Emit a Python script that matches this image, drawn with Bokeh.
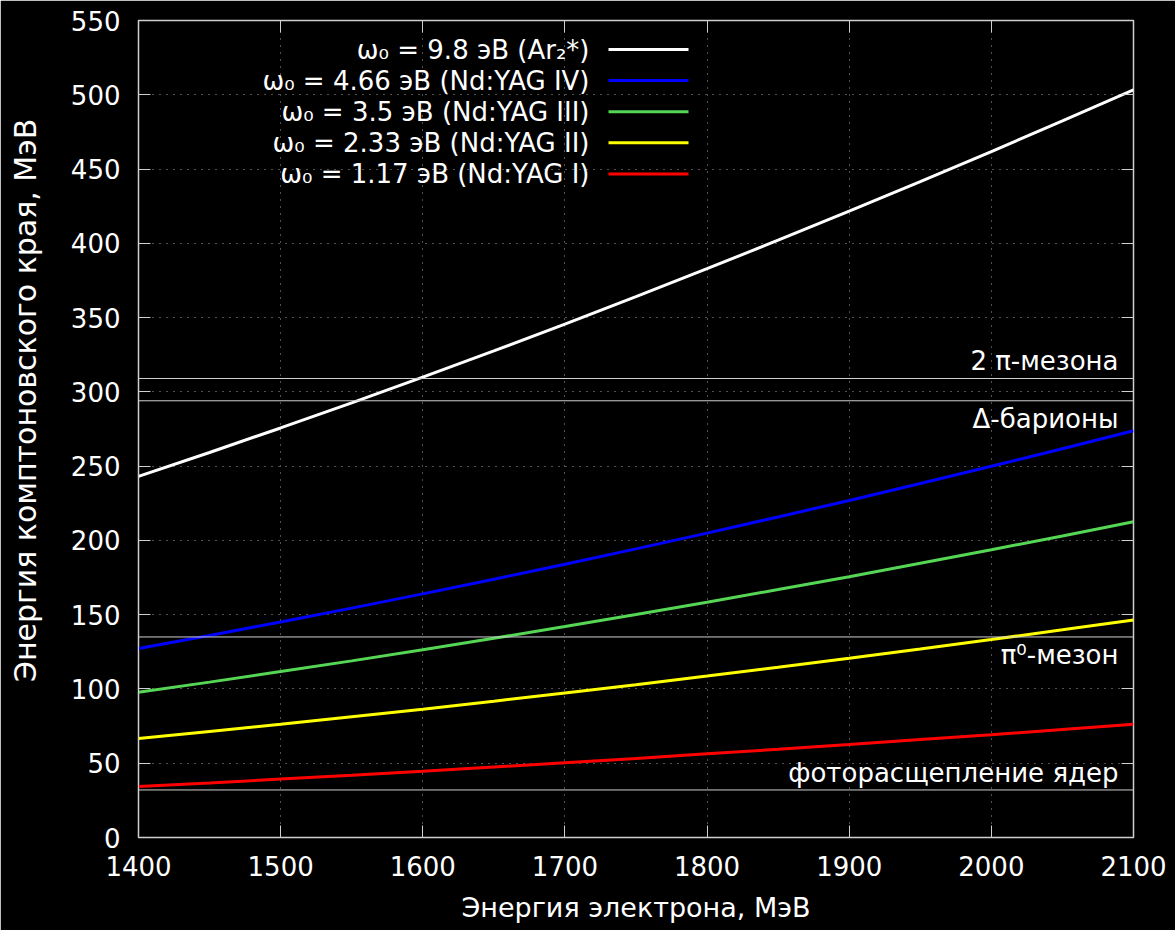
from bokeh.plotting import figure
from bokeh.models import (LinearAxis, FixedTicker, Span, Label, BoxAnnotation, Range1d)
from bokeh.embed import file_html
from bokeh.resources import INLINE

# ---------------- data ----------------
electron_energy = [1400, 1450, 1500, 1550, 1600, 1650, 1700, 1750, 1800,
                   1850, 1900, 1950, 2000, 2050, 2100]

edge_ar2 = [243.1, 259.2, 275.7, 292.6, 309.9, 327.6, 345.6, 364.1, 382.9,
            402.1, 421.7, 441.6, 461.8, 482.4, 503.3]
edge_yag4 = [127.2, 136.0, 145.1, 154.4, 164.0, 173.9, 184.0, 194.3, 204.9,
             215.8, 226.9, 238.3, 249.9, 261.7, 273.8]
edge_yag3 = [97.8, 104.6, 111.7, 118.9, 126.4, 134.1, 142.0, 150.1, 158.4,
             166.9, 175.6, 184.6, 193.7, 203.0, 212.5]
edge_yag2 = [66.6, 71.4, 76.2, 81.3, 86.4, 91.8, 97.3, 102.9, 108.7,
             114.6, 120.7, 126.9, 133.3, 139.8, 146.4]
edge_yag1 = [34.3, 36.7, 39.3, 41.9, 44.6, 47.4, 50.3, 53.2, 56.3,
             59.4, 62.6, 65.9, 69.2, 72.7, 76.2]

series_labels = ["ω₀ = 9.8 эВ (Ar₂*)",
                 "ω₀ = 4.66 эВ (Nd:YAG IV)",
                 "ω₀ = 3.5 эВ (Nd:YAG III)",
                 "ω₀ = 2.33 эВ (Nd:YAG II)",
                 "ω₀ = 1.17 эВ (Nd:YAG I)"]
series_colors = ["#ffffff", "#0000ff", "#55d655", "#ffff00", "#ff0000"]
series_values = [edge_ar2, edge_yag4, edge_yag3, edge_yag2, edge_yag1]

threshold_values = [309, 294, 135, 32]
threshold_labels = ["2 π-мезона", "Δ-барионы", "π⁰-мезон", "фоторасщепление ядер"]
threshold_label_above = [True, False, False, True]

x_ticks = [1400, 1500, 1600, 1700, 1800, 1900, 2000, 2100]
y_ticks = [0, 50, 100, 150, 200, 250, 300, 350, 400, 450, 500, 550]

x_range = (1400, 2100)
y_range = (0, 550)

x_title = "Энергия электрона, МэВ"
y_title = "Энергия комптоновского края, МэВ"

# ---------------- styling ----------------
FONT = "DejaVu Sans"
FS = "26px"
FG = "#ffffff"
FRAME = "#cfcfcf"
FW, FH = 995, 817

p = figure(frame_width=FW, frame_height=FH,
           x_range=Range1d(*x_range), y_range=Range1d(*y_range),
           output_backend="svg", toolbar_location=None,
           min_border_left=138, min_border_right=42,
           min_border_top=20, min_border_bottom=93,
           background_fill_color="#000000", border_fill_color="#000000",
           outline_line_color=FRAME, outline_line_width=1.5)

for ax in (p.xaxis[0], p.yaxis[0]):
    ax.axis_line_color = FRAME
    ax.major_tick_line_color = FRAME
    ax.major_tick_in = 12
    ax.major_tick_out = 0
    ax.minor_tick_line_color = None
    ax.major_label_text_color = FG
    ax.major_label_text_font = FONT
    ax.major_label_text_font_size = FS
    ax.axis_label_text_color = FG
    ax.axis_label_text_font = FONT
    ax.axis_label_text_font_size = FS
    ax.axis_label_text_font_style = "normal"

p.xaxis[0].ticker = FixedTicker(ticks=x_ticks)
p.yaxis[0].ticker = FixedTicker(ticks=y_ticks)
p.xaxis[0].axis_label = x_title
p.xaxis[0].axis_label_text_font_size = "27px"
p.xaxis[0].major_label_standoff = 18
p.xaxis[0].axis_label_standoff = 13
# leading no-break spaces lift the rotated title slightly above the frame centre
p.yaxis[0].axis_label = "\u00a0" * 6 + y_title
p.yaxis[0].axis_label_text_font_size = "30px"
p.yaxis[0].major_label_standoff = 18
p.yaxis[0].axis_label_standoff = 25

# mirrored ticks (top and right), labels not drawn
top_ax = LinearAxis(ticker=FixedTicker(ticks=x_ticks))
right_ax = LinearAxis(ticker=FixedTicker(ticks=y_ticks))
for ax in (top_ax, right_ax):
    ax.axis_line_color = None
    ax.major_tick_line_color = FRAME
    ax.major_tick_in = 12
    ax.major_tick_out = 0
    ax.minor_tick_line_color = None
    ax.major_label_text_font_size = "1px"
    ax.major_label_text_color = None
    ax.major_label_standoff = 0
p.add_layout(top_ax, "above")
p.add_layout(right_ax, "right")

for g in (p.xgrid[0], p.ygrid[0]):
    g.grid_line_color = "#a0a0a0"
    g.grid_line_dash = "1 6"
    g.grid_line_width = 1
p.xgrid[0].ticker = FixedTicker(ticks=x_ticks)
p.ygrid[0].ticker = FixedTicker(ticks=y_ticks)

# threshold lines
for val, lab, above in zip(threshold_values, threshold_labels, threshold_label_above):
    p.add_layout(Span(location=val, dimension="width",
                      line_color="#d0d0d0", line_width=1))
    p.add_layout(Label(x=x_range[1], y=val, text=lab, x_offset=-15,
                       y_offset=2 if above else -3,
                       text_align="right",
                       text_baseline="bottom" if above else "top",
                       text_color=FG, text_font=FONT, text_font_size=FS))

# curves
for vals, col in zip(series_values, series_colors):
    p.line(electron_energy, vals, line_color=col, line_width=3)

# manual legend (label left of sample), screen units relative to frame
leg_top = FH - 29
leg_step = 31.1
for i, (lab, col) in enumerate(zip(series_labels, series_colors)):
    yy = leg_top - i * leg_step
    p.add_layout(Label(x=451, y=yy, x_units="screen", y_units="screen",
                       text=lab, text_align="right", text_baseline="middle",
                       text_color=FG, text_font=FONT, text_font_size=FS))
    p.add_layout(BoxAnnotation(left=470, right=550, bottom=yy - 1.5, top=yy + 1.5,
                               left_units="screen", right_units="screen",
                               bottom_units="screen", top_units="screen",
                               fill_color=col, fill_alpha=1.0, line_color=None))

open("out.html", "w").write(file_html(p, INLINE))
